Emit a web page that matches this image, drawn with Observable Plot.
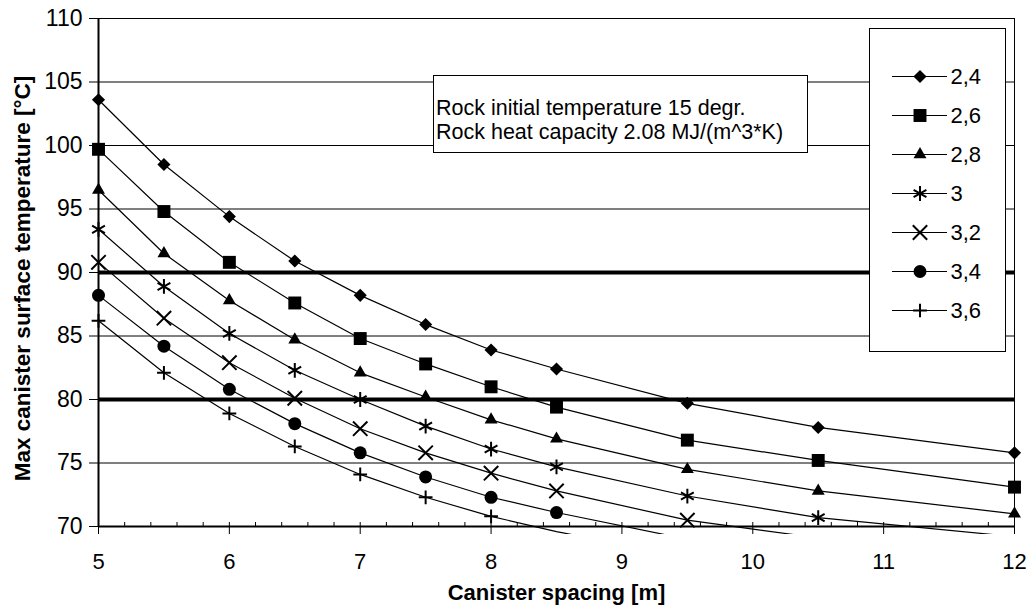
<!DOCTYPE html>
<html><head><meta charset="utf-8">
<script src="https://cdn.jsdelivr.net/npm/d3@7"></script>
<script src="https://cdn.jsdelivr.net/npm/@observablehq/plot@0.6"></script>
<style>
html,body{margin:0;padding:0;background:#fff;overflow:hidden;}
#wrap{position:relative;width:1029px;height:609px;overflow:hidden;font-family:"Liberation Sans",Arial,sans-serif;background:#fff;}
#wrap svg{display:block;}
#note{position:absolute;left:433px;top:75px;width:375px;height:78px;border:1px solid #000;background:#fff;box-sizing:border-box;font-size:21.5px;line-height:24px;padding:20px 0 0 2px;white-space:nowrap;color:#000;}
#legend{position:absolute;left:869px;top:28px;width:137px;height:324px;border:1px solid #000;background:#fff;box-sizing:border-box;}
</style></head>
<body><div id="wrap"><div id="note">Rock initial temperature 15 degr.<br>Rock heat capacity 2.08 MJ/(m^3*K)</div><div id="legend"></div></div>
<script>
// ---- data ----
const spacing = [5, 5.5, 6, 6.5, 7, 7.5, 8, 8.5, 9.5, 10.5, 12];
const seriesNames = ["2,4", "2,6", "2,8", "3", "3,2", "3,4", "3,6"];
const temp24 = [103.6, 98.5, 94.4, 90.9, 88.2, 85.9, 83.9, 82.4, 79.7, 77.8, 75.8];
const temp26 = [99.7, 94.8, 90.8, 87.6, 84.8, 82.8, 81.0, 79.4, 76.8, 75.2, 73.1];
const temp28 = [96.5, 91.5, 87.8, 84.7, 82.1, 80.2, 78.4, 76.9, 74.5, 72.8, 71.0];
const temp30 = [93.4, 88.9, 85.2, 82.3, 80.0, 77.9, 76.1, 74.7, 72.4, 70.7, 69.2];
const temp32 = [90.8, 86.4, 82.9, 80.1, 77.7, 75.8, 74.2, 72.8, 70.5, 69.1, 67.3];
const temp34 = [88.2, 84.2, 80.8, 78.1, 75.8, 73.9, 72.3, 71.1, 69.0, 67.3, 65.3];
const temp36 = [86.2, 82.1, 78.9, 76.3, 74.1, 72.3, 70.8, 69.6, 67.6, 66.0, 64.0];
const seriesValues = [temp24, temp26, temp28, temp30, temp32, temp34, temp36];
const limitLines = [80, 90];
const yTicks = [70, 75, 80, 85, 90, 95, 100, 105, 110];
const yGrid = [75, 80, 85, 90, 95, 100, 105, 110];
const xTicks = [5, 6, 7, 8, 9, 10, 11, 12];
const xTitle = "Canister spacing [m]";
const yTitle = "Max canister surface temperature [°C]";

// ---- styles (kept separate from data) ----
const markerStyle = [
  {symbol: "diamond2", r: 5.9, filled: true},
  {symbol: "square", r: 7.3, filled: true},
  {symbol: "triangle", r: 4.8, filled: true},
  {symbol: "asterisk", r: 7.0, filled: false},
  {symbol: "times", r: 6.6, filled: false},
  {symbol: "circle", r: 6.5, filled: true},
  {symbol: "plus", r: 4.5, filled: false}
];
const FONT = "'Liberation Sans', Arial, sans-serif";

const rows = seriesNames.flatMap((name, i) =>
  spacing.map((x, j) => ({series: name, x, t: seriesValues[i][j]})));

function dotMark(data, i, xOpt, yOpt) {
  const m = markerStyle[i];
  return Plot.dot(data, {
    x: xOpt, y: yOpt, symbol: m.symbol, r: m.r,
    fill: m.filled ? "#000" : "none",
    stroke: m.filled ? "none" : "#000",
    strokeWidth: m.filled ? 0 : 2
  });
}

const xMinor = d3.range(0, 36).map(k => 5 + k * 0.2);

const chart = Plot.plot({
  width: 1029, height: 609,
  marginLeft: 98, marginRight: 15, marginTop: 18, marginBottom: 83,
  x: {domain: [5, 12]},
  y: {domain: [70, 110]},
  style: {fontFamily: FONT, fontSize: "22px", background: "#fff", color: "#000"},
  marks: [
    Plot.ruleY(yGrid, {stroke: "#000", strokeWidth: 1}),
    Plot.ruleX([12], {stroke: "#000", strokeWidth: 1}),
    Plot.ruleY(limitLines, {stroke: "#000", strokeWidth: 4}),
    Plot.line(rows, {x: "x", y: "t", z: "series", stroke: "#000", strokeWidth: 1.2}),
    Plot.axisY({ticks: yTicks, tickSize: 9, tickPadding: 7, label: null, fontSize: 23, tickFormat: d => String(d)}),
    Plot.axisX({ticks: xTicks, tickSize: 8, tickPadding: 19, label: null, fontSize: 22, tickFormat: d => String(d)}),
    Plot.axisX({ticks: xMinor, tickSize: -4, label: null, tickFormat: () => ""}),
    Plot.ruleY([70], {stroke: "#000", strokeWidth: 2}),
    Plot.ruleX([5], {stroke: "#000", strokeWidth: 2}),
    ...seriesNames.map((name, i) =>
      dotMark(rows.filter(d => d.series === name && d.t >= 70), i, "x", "t")),
    Plot.text([xTitle], {frameAnchor: "bottom", dy: 66, lineAnchor: "middle", textAnchor: "middle", fontWeight: "bold", fontSize: 22, text: d => d}),
    Plot.text([yTitle], {frameAnchor: "left", dx: -76, dy: 6, rotate: -90, lineAnchor: "middle", textAnchor: "middle", fontWeight: "bold", fontSize: 22.5, text: d => d})
  ]
});

// clip series lines slightly below the x axis (as in the source chart)
(function clipLines() {
  const ys = chart.scale("y"), xs = chart.scale("x");
  const ns = "http://www.w3.org/2000/svg";
  const defs = document.createElementNS(ns, "defs");
  const cp = document.createElementNS(ns, "clipPath");
  cp.setAttribute("id", "line-clip");
  const rect = document.createElementNS(ns, "rect");
  const top = ys.apply(110) - 20, bottom = ys.apply(70) + 7.5;
  rect.setAttribute("x", xs.apply(5) - 5);
  rect.setAttribute("y", top);
  rect.setAttribute("width", xs.apply(12) - xs.apply(5) + 10);
  rect.setAttribute("height", bottom - top);
  cp.appendChild(rect); defs.appendChild(cp);
  chart.insertBefore(defs, chart.firstChild);
  chart.querySelectorAll('g[aria-label="line"]').forEach(g => g.setAttribute("clip-path", "url(#line-clip)"));
})();

document.getElementById("wrap").insertBefore(chart, document.getElementById("note"));

// legend
const legend = Plot.plot({
  width: 135, height: 322, margin: 0,
  x: {domain: [0, 1], range: [22, 77], axis: null},
  y: {type: "point", domain: seriesNames, range: [24.5, 302.5], axis: null},
  style: {fontFamily: FONT, fontSize: "22px", background: "#fff", color: "#000"},
  marks: [
    Plot.ruleY(seriesNames, {y: d => d, x1: 0, x2: 1, stroke: "#000", strokeWidth: 1}),
    ...seriesNames.map((name, i) => dotMark([name], i, () => 0.5, d => d)),
    Plot.text(seriesNames, {x: 1, y: d => d, text: d => d, textAnchor: "start", dx: 3, fontSize: 22})
  ]
});
document.getElementById("legend").appendChild(legend);
</script>
</body></html>
